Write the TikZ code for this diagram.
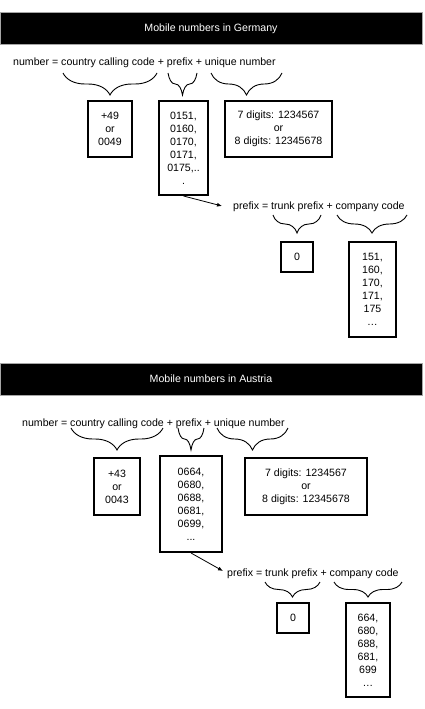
\documentclass[tikz,border=0pt]{standalone}
\usepackage{fontspec}
\setmainfont{Liberation Sans}
\usetikzlibrary{decorations.pathreplacing,arrows.meta}
\begin{document}
\begin{tikzpicture}[x=1pt,y=-1pt,
  txt/.style={font=\fontsize{10.6}{13}\selectfont, inner sep=0pt},
  box/.style={draw, line width=2pt, align=center, inner sep=0pt, font=\fontsize{10.6}{13}\selectfont},
  banner/.style={fill=black, draw=gray!70, line width=0.8pt},
  brc/.style={decorate, decoration={brace, mirror, amplitude=#1}, line width=0.9pt},
  arr/.style={-{Latex[length=5pt,width=4pt]}, line width=0.8pt}]
\useasboundingbox (0,0) rectangle (424,709);

% ---------------- Germany ----------------
\draw[banner] (0.4,12.5) rectangle (422.5,44);
\node[txt, text=white] (gtitle) at (211,28.5) {Mobile numbers in Germany};

\node[txt, anchor=base west] (gform) at (13,66) {number = country calling code + prefix + unique number};

\draw[brc=22pt] (63,73) -- (157,73);
\draw[brc=22pt] (168,73) -- (197,73);
\draw[brc=22pt] (211,73) -- (282,73);

\node[box, minimum width=44pt, minimum height=56pt] (gcc) at (110,129) {+49\\or\\0049};
\node[box, minimum width=49pt, minimum height=94pt] (gpre) at (183.5,148) {0151,\\0160,\\0170,\\0171,\\0175,..\\.};
\node[box, minimum width=107pt, minimum height=56pt] (gun) at (278.5,129) {7 digits: 1234567\\or\\8 digits: 12345678};

\node[txt, anchor=base west] (gsub) at (233,209) {prefix = trunk prefix + company code};
\coordinate (gend) at (222,206);
\draw[arr] (gpre.south) -- (gend);

\draw[brc=18pt] (273,215) -- (321,215);
\draw[brc=18pt] (337,215) -- (407,215);

\node[box, minimum width=32pt, minimum height=30pt] (gtr) at (297,257) {0};
\node[box, minimum width=47pt, minimum height=95pt] (gco) at (372.5,289.5) {151,\\160,\\170,\\171,\\175\\…};

% ---------------- Austria ----------------
\draw[banner] (0.4,363) rectangle (422.5,395);
\node[txt, text=white] (atitle) at (211,379) {Mobile numbers in Austria};

\node[txt, anchor=base west] (aform) at (22,426) {number = country calling code + prefix + unique number};

\draw[brc=22pt] (71,428) -- (163,428);
\draw[brc=22pt] (178,428) -- (204,428);
\draw[brc=22pt] (217,428) -- (288,428);

\node[box, minimum width=46pt, minimum height=57pt] (acc) at (117,486.5) {+43\\or\\0043};
\node[box, minimum width=62pt, minimum height=96pt] (apre) at (191,504) {0664,\\0680,\\0688,\\0681,\\0699,\\...};
\node[box, minimum width=122pt, minimum height=57pt] (aun) at (306,486.5) {7 digits: 1234567\\or\\8 digits: 12345678};

\node[txt, anchor=base west] (asub) at (227,576) {prefix = trunk prefix + company code};
\coordinate (aend) at (223,571);
\draw[arr] (apre.south) -- (aend);

\draw[brc=15pt] (265,582) -- (320,582);
\draw[brc=15pt] (334,582) -- (402,582);

\node[box, minimum width=32pt, minimum height=30pt] (atr) at (293,618) {0};
\node[box, minimum width=44pt, minimum height=94pt] (aco) at (368,650) {664,\\680,\\688,\\681,\\699\\…};
\end{tikzpicture}
\end{document}
